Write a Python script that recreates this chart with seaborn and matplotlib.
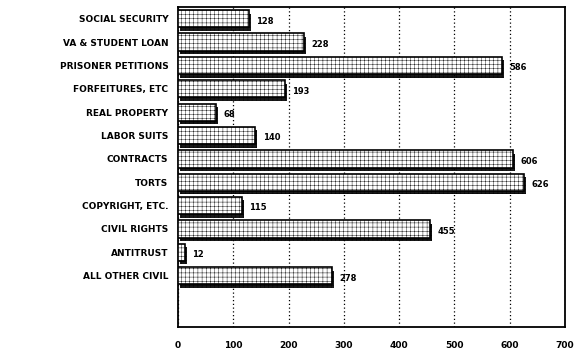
import matplotlib
matplotlib.use("Agg")
import matplotlib.pyplot as plt
import matplotlib.patheffects as pe
import seaborn as sns
import pandas as pd

# datos
categorias = ["SOCIAL SECURITY", "VA & STUDENT LOAN", "PRISONER PETITIONS",
              "FORFEITURES, ETC", "REAL PROPERTY", "LABOR SUITS", "CONTRACTS",
              "TORTS", "COPYRIGHT, ETC.", "CIVIL RIGHTS", "ANTITRUST",
              "ALL OTHER CIVIL"]
valores = [128, 228, 586, 193, 68, 140, 606, 626, 115, 455, 12, 278]
ticks_x = [0, 100, 200, 300, 400, 500, 600, 700]

df = pd.DataFrame({"categoria": categorias, "valor": valores})

sns.set_style("white")
plt.rcParams['hatch.linewidth'] = 0.3
plt.rcParams['font.family'] = ['DejaVu Sans']
plt.rcParams['text.color'] = 'black'
plt.rcParams['xtick.color'] = 'black'
plt.rcParams['ytick.color'] = 'black'

fig = plt.figure(figsize=(5.76, 3.51), dpi=100)
ax = fig.add_axes([0.309, 0.068, 0.672, 0.912])

sns.barplot(data=df, x="valor", y="categoria", orient="h", color="white",
            edgecolor="black", linewidth=1.2, width=0.74, ax=ax, zorder=3)

for barra in ax.patches:
    barra.set_hatch("++++")
    barra.set_path_effects([pe.SimplePatchShadow(offset=(1.5, -2.5), shadow_rgbFace="black", alpha=0.9),
                            pe.Normal()])

for i, v in enumerate(valores):
    ax.text(v + 14, i + 0.1, str(v), va="center", ha="left", fontsize=6,
            fontweight="bold", color="black")

ax.set_xlim(0, 700)
ax.set_ylim(13.2, -0.5)
ax.set_xticks(ticks_x)
ax.set_xticklabels([str(t) for t in ticks_x], fontsize=6.5, fontweight="bold")
ax.set_yticks(range(len(categorias)))
ax.set_yticklabels(categorias, fontsize=6.5, fontweight="bold")
ax.set_xlabel("")
ax.set_ylabel("")

ax.xaxis.grid(True, linestyle=(0, (1, 2)), color="black", linewidth=0.9, zorder=0)
ax.yaxis.grid(False)
ax.tick_params(axis="y", length=4, width=1, direction="out", pad=3)
ax.tick_params(axis="x", length=4, width=1, direction="inout", pad=8)
for lado in ax.spines.values():
    lado.set_color("black")
    lado.set_linewidth(1.3)

fig.savefig("out.png", dpi=100)
